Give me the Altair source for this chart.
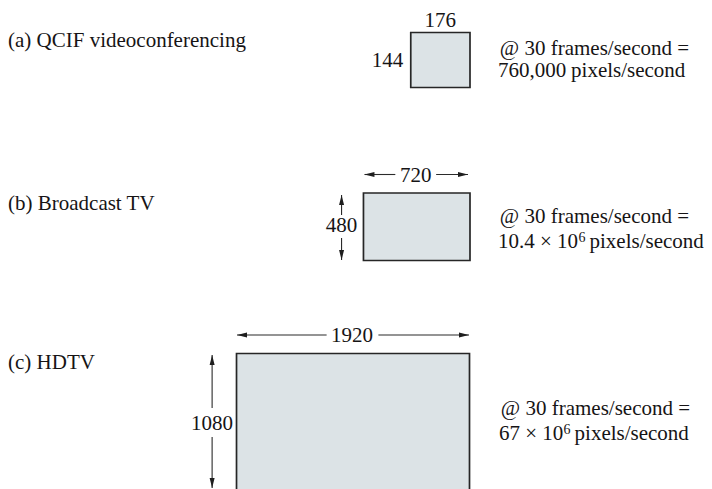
import altair as alt
import pandas as pd

# ---- content ----
formats = ["(a) QCIF videoconferencing", "(b) Broadcast TV", "(c) HDTV"]
frame_w = [176, 720, 1920]
frame_h = [144, 480, 1080]
fps = [30, 30, 30]
rate_mant = ["760,000", "10.4 × 10", "67 × 10"]
rate_exp = ["", "6", "6"]
rate_unit = "pixels/second"

# ---- layout (page pixels) ----
label_y = [47, 210, 369]
box_x1 = [412.5, 365, 237.5]
box_x2 = [472, 472, 471.5]
box_y1 = [32.5, 193, 353.5]
box_y2 = [87.5, 260.5, 520]
wlab_x = [442, 417.5, 353.5]
wlab_y = [27, 182, 342]
hlab_x = [405, 343, 213]
hlab_y = [67, 232, 430]
hlab_align = ["right", "center", "center"]
rate1_x = [502, 502, 503]
rate1_y = [55, 223, 415]
rate2_x = [500, 500, 501]
rate2_y = [77, 248, 440]
exp_x = [0, 581, 566]
exp_y = [0, 242, 434]
unit_x = [573.5, 592, 577]
# dimension arrows for (b) and (c)
harr_y = [174.5, 335]
harr_tipL = [366, 238]
harr_gapL = [397, 328]
harr_gapR = [438, 380]
harr_tipR = [470, 471]
varr_x = [343, 213]
varr_tipT = [195, 355]
varr_gapT = [215, 408]
varr_gapB = [238, 437]
varr_tipB = [260, 488]

FONT = "Liberation Serif, Times New Roman, Times, serif"
FS = 21
INK = "#161415"

xs = alt.Scale(domain=[8, 704])
ys = alt.Scale(domain=[8, 489], reverse=True)

def X(f="x"):
    return alt.X(f"{f}:Q", scale=xs, axis=None)

def Y(f="y"):
    return alt.Y(f"{f}:Q", scale=ys, axis=None)

def texts(df, align="left", size=FS):
    return alt.Chart(df).mark_text(align=align, baseline="alphabetic", font=FONT,
                                   fontSize=size, color=INK).encode(x=X(), y=Y(), text="t:N")

boxes = pd.DataFrame({"x": box_x1, "x2": box_x2, "y": box_y1, "y2": box_y2,
                      "w": frame_w, "h": frame_h})
rects = alt.Chart(boxes).mark_rect(fill="#dce3e6", stroke="#262626",
                                   strokeWidth=1.7, clip=True).encode(
    x=X(), x2="x2:Q", y=Y(), y2="y2:Q")

lab = texts(pd.DataFrame({"x": [8, 8, 8], "y": label_y, "t": formats}))
wlab = texts(pd.DataFrame({"x": wlab_x, "y": wlab_y, "t": [str(v) for v in frame_w]}),
             align="center")
hl_layers = [texts(pd.DataFrame({"x": [hlab_x[i]], "y": [hlab_y[i]],
                                 "t": [str(frame_h[i])]}), align=hlab_align[i])
             for i in range(3)]

rate1 = texts(pd.DataFrame({"x": rate1_x, "y": rate1_y,
                            "t": [f"@ {f} frames/second =" for f in fps]}))
rate2 = texts(pd.DataFrame({"x": rate2_x, "y": rate2_y, "t": rate_mant}))
exps = texts(pd.DataFrame({"x": exp_x[1:], "y": exp_y[1:], "t": rate_exp[1:]}), size=14)
units = texts(pd.DataFrame({"x": unit_x, "y": rate2_y, "t": [rate_unit] * 3}))

# arrow shafts
hseg = pd.DataFrame({"x": harr_tipL + harr_gapR, "x2": harr_gapL + harr_tipR,
                     "y": harr_y + harr_y})
vseg = pd.DataFrame({"y": varr_tipT + varr_gapB, "y2": varr_gapT + varr_tipB,
                     "x": varr_x + varr_x})
hrules = alt.Chart(hseg).mark_rule(color="#2b2b2b", strokeWidth=1.1).encode(
    x=X(), x2="x2:Q", y=Y())
vrules = alt.Chart(vseg).mark_rule(color="#2b2b2b", strokeWidth=1.1).encode(
    y=Y(), y2="y2:Q", x=X())

# arrow heads (tip at the point; 0=right, 90=down, 180=left, 270=up)
heads = pd.DataFrame({
    "x": harr_tipL + harr_tipR + varr_x + varr_x,
    "y": harr_y + harr_y + varr_tipT + varr_tipB,
    "a": [180, 180, 0, 0, 270, 270, 90, 90],
})
arrow_path = "M0,0L-2,-0.5L-2,0.5Z"
heads_m = alt.Chart(heads).mark_point(shape=arrow_path, filled=True, size=100,
                                      color="#1e1e1e", opacity=1, strokeWidth=0).encode(
    x=X(), y=Y(), angle=alt.Angle("a:Q", scale=None))

chart = alt.layer(rects, hrules, vrules, heads_m, lab, wlab, *hl_layers,
                  rate1, rate2, exps, units).properties(
    width=696, height=481, padding=0,
    autosize=alt.AutoSizeParams(type="fit", contains="padding"),
    background="white",
).configure_view(stroke=None)

chart.save("out.html", embed_options={"renderer": "svg", "actions": False})
